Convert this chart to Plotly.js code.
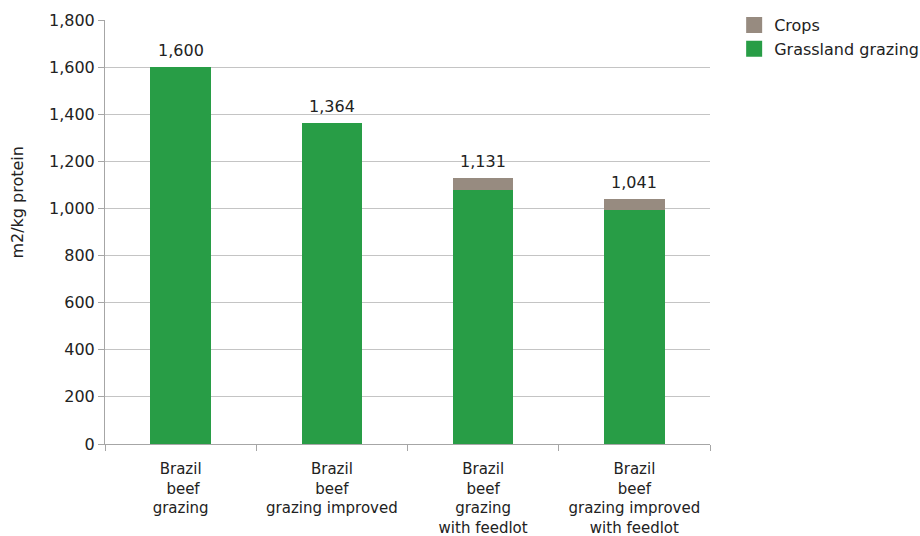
<!DOCTYPE html>
<html><head><meta charset="utf-8">
<script src="https://cdn.plot.ly/plotly-3.0.1.min.js"></script>
<style>html,body{margin:0;padding:0;background:#fff}#c{width:920px;height:536px}</style>
</head><body><div id="c"></div>
<script>
const categories = ["Brazil<br> beef<br>grazing", "Brazil<br>beef<br>grazing improved", "Brazil<br>beef<br>grazing<br>with feedlot", "Brazil<br>beef<br>grazing improved<br>with feedlot"];
const grassland = [1600, 1364, 1080, 993];
const crops = [0, 0, 51, 48];
const totals = [1600, 1364, 1131, 1041];
const totalLabels = ["1,600", "1,364", "1,131", "1,041"];

const GREEN = "#289d46", GREY = "#978b80";
const font = {family: "DejaVu Sans, Verdana, sans-serif", size: 16, color: "#222"};
const xfont = {family: "DejaVu Sans, Verdana, sans-serif", size: 15, color: "#222"};

const traces = [
  {type: "bar", x: categories, y: grassland, name: "Grassland grazing", marker: {color: GREEN}, showlegend: false, hoverinfo: "skip"},
  {type: "bar", x: categories, y: crops, name: "Crops", marker: {color: GREY}, showlegend: false, hoverinfo: "skip"},
  {type: "scatter", mode: "markers", x: [null], y: [null], name: "Crops", legendgroup: "a", marker: {symbol: "square", color: GREY, size: 19}},
  {type: "scatter", mode: "markers", x: [null], y: [null], name: "Grassland grazing", legendgroup: "b", marker: {symbol: "square", color: GREEN, size: 19}}
];

const annotations = categories.map((c, i) => ({
  x: c, y: totals[i], xref: "x", yref: "y", text: totalLabels[i], showarrow: false,
  yanchor: "bottom", yshift: 5, font: font
}));
annotations.push({text: "m2/kg protein", textangle: -90, xref: "paper", yref: "paper", x: -0.145, y: 0.57,
                 xanchor: "center", yanchor: "middle", showarrow: false, font: font});

const layout = {
  width: 920, height: 536,
  margin: {l: 105, r: 210, t: 20, b: 92},
  barmode: "stack", bargap: 0.6,
  font: font,
  paper_bgcolor: "#fff", plot_bgcolor: "#fff",
  xaxis: {type: "category", tickson: "boundaries", ticks: "outside", ticklen: 6, tickcolor: "#a6a6a6",
          showline: true, linecolor: "#a6a6a6", showgrid: false, tickfont: xfont, automargin: false, ticklabelstandoff: 11},
  yaxis: {range: [0, 1800], dtick: 200, tickformat: ",d", ticks: "outside", ticklen: 6, tickcolor: "#a6a6a6",
          showline: true, linecolor: "#a6a6a6", gridcolor: "#c4c4c4", zeroline: false, tickfont: font, automargin: false},
  legend: {xref: "container", yref: "container", x: 0.798, y: 0.985, xanchor: "left", yanchor: "top",
           font: font, traceorder: "normal", tracegroupgap: 14},
  annotations: annotations
};
Plotly.newPlot("c", traces, layout, {displayModeBar: false, staticPlot: true});
</script></body></html>
